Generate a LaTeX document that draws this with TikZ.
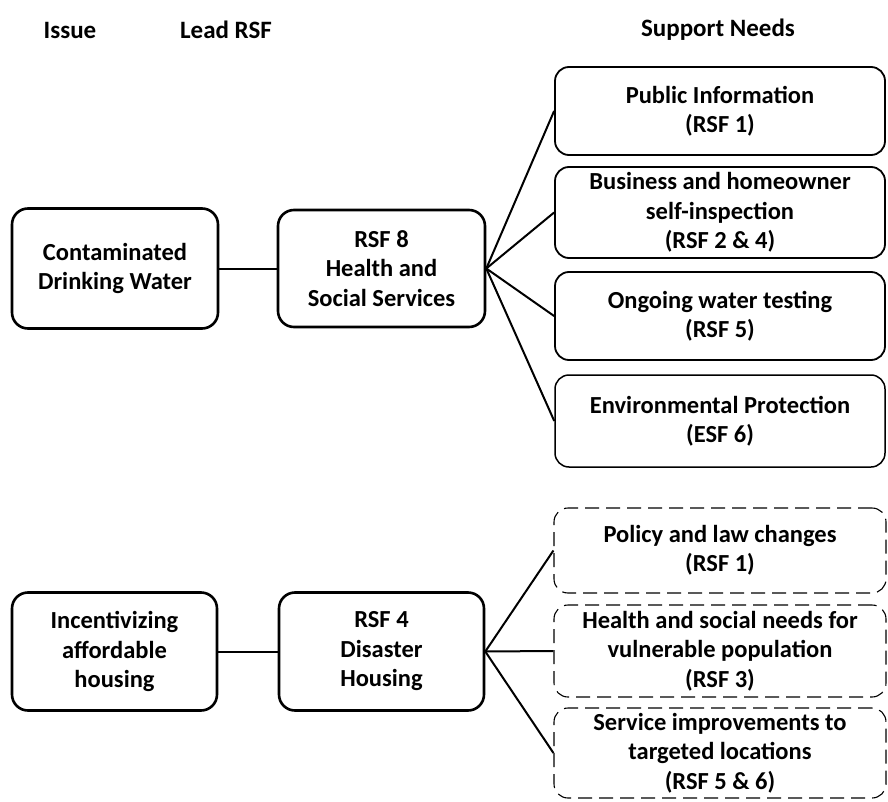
\documentclass[tikz,border=0pt]{standalone}
\usepackage{fontspec}
\setmainfont{Carlito}
\begin{document}
\begin{tikzpicture}[x=1pt,y=-1pt,
  every node/.style={font=\bfseries\fontsize{24.5}{29.5}\selectfont, align=center, inner sep=0pt},
  hdr/.style={font=\bfseries\fontsize{25}{30}\selectfont},
  mainbox/.style={draw, line width=2.6pt, rounded corners=16pt},
  supbox/.style={draw, line width=1.8pt, rounded corners=14pt, minimum width=330pt},
  faintbox/.style={draw, line width=1.1pt, dash pattern=on 14pt off 7pt, rounded corners=14pt, minimum width=332pt},
  link/.style={line width=2pt}]
\useasboundingbox (0,0) rectangle (888,802);

\node[hdr] (h1) at (70,30) {Issue};
\node[hdr] (h2) at (226,30) {Lead RSF};
\node[hdr] (h3) at (718,30) {Support Needs};

\node[mainbox, minimum width=206pt, minimum height=120pt] (i1) at (115,268.5) {Contaminated\\Drinking Water};
\node[mainbox, minimum width=207pt, minimum height=117pt] (l1) at (381.5,268.5) {RSF 8\\Health and\\Social Services};

\node[supbox, minimum height=88pt] (s1) at (720,111) {Public Information\\(RSF 1)};
\node[supbox, minimum height=91pt] (s2) at (720,212.5) {Business and homeowner\\self-inspection\\(RSF 2 \& 4)};
\node[supbox, minimum height=88pt] (s3) at (720,316) {Ongoing water testing\\(RSF 5)};
\node[supbox, minimum height=92pt, line width=1.5pt] (s4) at (720,421) {Environmental Protection\\(ESF 6)};

\node[mainbox, minimum width=205pt, minimum height=118pt] (i2) at (114.5,651.5) {Incentivizing\\affordable\\housing};
\node[mainbox, minimum width=205pt, minimum height=118pt] (l2) at (381.5,651.5) {RSF 4\\Disaster\\Housing};

\node[faintbox, minimum height=85pt] (p1) at (720,550.5) {Policy and law changes\\(RSF 1)};
\node[faintbox, minimum height=92pt] (p2) at (720,651) {Health and social needs for\\vulnerable population\\(RSF 3)};
\node[faintbox, minimum height=90pt] (p3) at (720,753) {Service improvements to\\targeted locations\\(RSF 5 \& 6)};

\draw[link] (i1.east) -- (l1.west);
\foreach \t in {s1,s2,s3,s4} \draw[link] (l1.east) -- (\t.west);
\draw[link] (i2.east) -- (l2.west);
\foreach \t in {p1,p2,p3} \draw[link] (l2.east) -- (\t.west);
\end{tikzpicture}
\end{document}
